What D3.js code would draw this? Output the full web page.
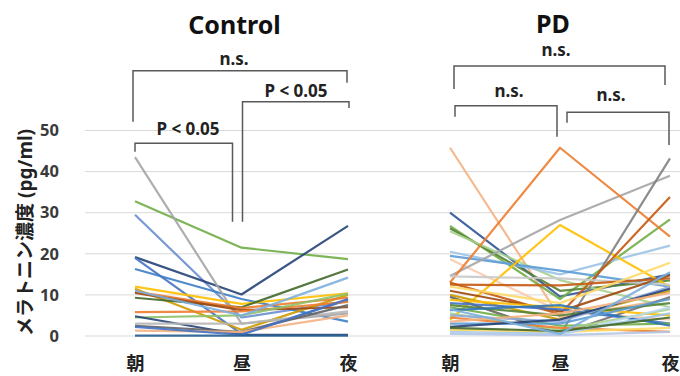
<!DOCTYPE html>
<html>
<head>
<meta charset="utf-8">
<script src="https://cdn.jsdelivr.net/npm/d3@7"></script>
<style>
  body { margin: 0; background: #fff; }
  text { font-family: "Noto Sans", "Noto Sans CJK JP", sans-serif; font-weight: bold; }
</style>
</head>
<body>
<div id="chart"></div>
<script>
const times = ['朝', '昼', '夜'];
const yTicks = [0, 10, 20, 30, 40, 50];

// one row per subject: [朝, 昼, 夜] (pg/ml)
const controlValues = [
  [32.8, 21.5, 18.7],
  [29.5, 4.5, 8.5],
  [19.2, 10.1, 26.8],
  [19.0, 0.5, 8.8],
  [16.3, 9.0, 3.5],
  [43.5, 3.0, 5.5],
  [12.0, 7.8, 10.4],
  [11.5, 1.5, 10.0],
  [9.3, 7.0, 16.2],
  [10.8, 6.8, 9.3],
  [10.5, 6.3, 7.0],
  [5.8, 6.0, 8.3],
  [4.5, 5.0, 10.3],
  [4.8, 0.3, 0.3],
  [3.0, 3.0, 6.0],
  [2.5, 1.0, 7.5],
  [1.3, 1.0, 5.0],
  [2.2, 0.3, 9.0],
  [0.1, 0.1, 0.1],
  [11.0, 5.0, 14.2]
];
const controlColors = ['#70AD47', '#698ED0', '#264478', '#4472C4', '#3C7DC4', '#A5A5A5', '#FFC000',
  '#CC9A00', '#43682B', '#ED7D31', '#9E480E', '#ED7D31', '#8CC168', '#264478', '#B7B7B7',
  '#636363', '#F4B183', '#4472C4', '#255E91', '#7CAFDD'];

const pdValues = [
  [45.8, 4.5, 9.0],
  [30.0, 9.6, 15.0],
  [26.8, 9.0, 28.4],
  [26.2, 11.0, 13.5],
  [25.5, 13.6, 7.0],
  [20.5, 15.0, 22.0],
  [19.5, 15.9, 12.0],
  [18.7, 6.0, 4.0],
  [14.6, 28.2, 39.0],
  [13.0, 45.8, 24.2],
  [4.0, 27.0, 12.0],
  [9.6, 0.3, 43.2],
  [13.0, 5.3, 33.8],
  [14.5, 14.0, 12.5],
  [12.5, 12.3, 14.0],
  [12.0, 8.0, 17.8],
  [11.0, 6.0, 14.8],
  [10.0, 4.0, 11.0],
  [9.5, 0.5, 9.5],
  [8.8, 7.0, 5.0],
  [8.0, 6.5, 3.0],
  [7.5, 5.0, 8.0],
  [7.0, 2.5, 3.0],
  [6.3, 7.5, 2.5],
  [5.5, 1.5, 6.5],
  [5.0, 3.5, 12.0],
  [4.5, 2.0, 1.0],
  [3.0, 3.0, 9.0],
  [2.2, 4.0, 11.5],
  [1.5, 1.0, 2.0],
  [1.0, 0.5, 5.5],
  [0.8, 0.3, 7.0],
  [0.5, 0.2, 1.0],
  [3.5, 5.5, 10.5],
  [2.0, 1.2, 4.5],
  [6.5, 0.5, 15.5]
];
const pdColors = ['#F4B183', '#2F5597', '#70AD47', '#548235', '#A9D18E', '#9DC3E6', '#5B9BD5',
  '#F8CBAD', '#A5A5A5', '#ED7D31', '#FFC000', '#7F7F7F', '#C55A11', '#C9C9C9', '#C55A11',
  '#FFD966', '#9E480E', '#CC9A00', '#767171', '#FFC000', '#4472C4', '#548235', '#70AD47',
  '#2E75B6', '#A9D18E', '#8FAADC', '#ED7D31', '#5B9BD5', '#264478', '#FFD966', '#9DC3E6',
  '#BDD7EE', '#B4C7E7', '#F4B183', '#43682B', '#7CAFDD'];

const controlLabels = ['n.s.', 'P < 0.05', 'P < 0.05'];
const pdLabels = ['n.s.', 'n.s.', 'n.s.'];

const width = 680, height = 376;
const svg = d3.select('#chart').append('svg')
  .attr('width', width)
  .attr('height', height);

const yScale = d3.scaleLinear().domain([0, 50]).range([336, 130.5]);
const xControl = d3.scalePoint().domain(times).range([135, 348]);
const xPD = d3.scalePoint().domain(times).range([450, 670]);

// gridlines
svg.append('g')
  .selectAll('line')
  .data(yTicks)
  .enter().append('line')
  .attr('x1', 85)
  .attr('x2', 680)
  .attr('y1', d => yScale(d))
  .attr('y2', d => yScale(d))
  .attr('stroke', '#d9d9d9')
  .attr('stroke-width', 1);

// y axis (labels only)
const yAxis = d3.axisLeft(yScale).tickValues(yTicks).tickSize(0).tickPadding(0);
const yG = svg.append('g')
  .attr('transform', 'translate(59,0)')
  .call(yAxis);
yG.select('.domain').remove();
yG.selectAll('text')
  .attr('font-size', 16.5)
  .attr('fill', '#3a3a3a')
  .style('font-family', '"Noto Sans", sans-serif')
  .style('font-weight', 'bold');

svg.append('text')
  .attr('transform', `translate(32,${yScale(25.2)}) rotate(-90)`)
  .attr('text-anchor', 'middle')
  .attr('font-size', 19)
  .attr('fill', '#222')
  .text('メラトニン濃度 (pg/ml)');

function drawPanel(xScale, values, colors, title, titleY) {
  const line = d3.line()
    .x((d, i) => xScale(times[i]))
    .y(d => yScale(d));

  svg.append('g')
    .selectAll('path')
    .data(values)
    .enter().append('path')
    .attr('d', line)
    .attr('fill', 'none')
    .attr('stroke', (d, i) => colors[i % colors.length])
    .attr('stroke-width', 2.2)
    .attr('stroke-opacity', 0.9)
    .attr('stroke-linejoin', 'round');

  const xAxis = d3.axisBottom(xScale).tickSize(0).tickPadding(0);
  const xG = svg.append('g')
    .attr('transform', 'translate(0,357)')
    .call(xAxis);
  xG.select('.domain').remove();
  xG.selectAll('text')
    .attr('font-size', 18)
    .attr('fill', '#222')
    .style('font-family', '"Noto Sans CJK JP", sans-serif')
    .style('font-weight', 'bold');

  const xMid = (xScale.range()[0] + xScale.range()[1]) / 2;
  svg.append('text')
    .attr('x', xMid - 7)
    .attr('y', titleY)
    .attr('text-anchor', 'middle')
    .attr('font-size', 25)
    .attr('fill', '#111')
    .text(title);
}

drawPanel(xControl, controlValues, controlColors, 'Control', 34);
drawPanel(xPD, pdValues, pdColors, 'PD', 33);

// significance brackets
function bracket(x1, x2, y, y1, y2, label, lx, ly) {
  svg.append('path')
    .attr('d', `M${x1},${y1}V${y}H${x2}V${y2}`)
    .attr('fill', 'none')
    .attr('stroke', '#595959')
    .attr('stroke-width', 1.5);
  svg.append('text')
    .attr('x', lx)
    .attr('y', ly)
    .attr('text-anchor', 'middle')
    .attr('font-size', 17)
    .attr('fill', '#222')
    .text(label);
}

bracket(xControl('朝') - 2, xControl('夜') - 1, 70.7, 121.7, 82.7, controlLabels[0], 234, 65);
bracket(xControl('昼') + 1, xControl('夜') + 1, 101.7, 221.7, 108, controlLabels[1], 296, 96.7);
bracket(xControl('朝'), xControl('昼') - 9, 143.3, 151.7, 221.7, controlLabels[2], 188, 135);

bracket(xPD('朝') + 4, xPD('夜') - 5, 66, 89, 85, pdLabels[0], 556, 56);
bracket(xPD('朝') + 5, xPD('昼') - 3, 105.7, 116.7, 136.7, pdLabels[1], 509, 96.7);
bracket(xPD('昼') + 7, xPD('夜') - 1, 112.3, 122.7, 145, pdLabels[2], 611, 101);
</script>
</body>
</html>
